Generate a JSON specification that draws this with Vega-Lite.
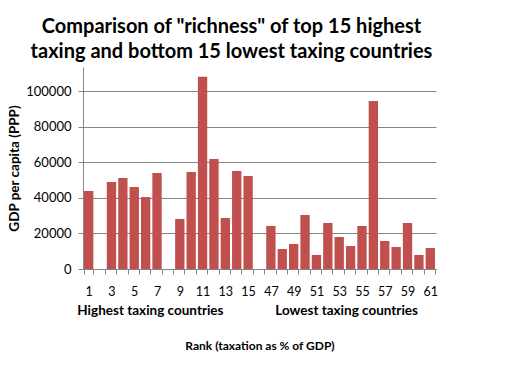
{
  "$schema": "https://vega.github.io/schema/vega-lite/v6.json",
  "width": 353,
  "height": 202,
  "autosize": {"type": "none"},
  "padding": {"left": 83, "top": 67, "right": 81, "bottom": 100},
  "background": "white",
  "config": {"view": {"stroke": null}, "font": "Lato"},
  "title": {
    "text": ["Comparison of \"richness\" of top 15 highest", "taxing and bottom 15 lowest taxing countries"],
    "fontSize": 20,
    "fontWeight": "bold",
    "font": "Lato",
    "lineHeight": 25,
    "dx": -28,
    "offset": 5,
    "color": "black"
  },
  "data": {
    "values": [
      {"rank": "1", "gdp": 43900},
      {"rank": "3", "gdp": 49000},
      {"rank": "4", "gdp": 51200},
      {"rank": "5", "gdp": 46150},
      {"rank": "6", "gdp": 40500},
      {"rank": "7", "gdp": 54000},
      {"rank": "9", "gdp": 28150},
      {"rank": "10", "gdp": 54600},
      {"rank": "11", "gdp": 108250},
      {"rank": "12", "gdp": 61900},
      {"rank": "13", "gdp": 28700},
      {"rank": "14", "gdp": 55150},
      {"rank": "15", "gdp": 52350},
      {"rank": "47", "gdp": 24200},
      {"rank": "48", "gdp": 11250},
      {"rank": "49", "gdp": 14050},
      {"rank": "50", "gdp": 30400},
      {"rank": "51", "gdp": 7900},
      {"rank": "52", "gdp": 25900},
      {"rank": "53", "gdp": 18000},
      {"rank": "54", "gdp": 12950},
      {"rank": "55", "gdp": 24200},
      {"rank": "56", "gdp": 94550},
      {"rank": "57", "gdp": 15750},
      {"rank": "58", "gdp": 12400},
      {"rank": "59", "gdp": 25900},
      {"rank": "60", "gdp": 7900},
      {"rank": "61", "gdp": 11800}
    ]
  },
  "layer": [
    {
      "mark": {"type": "bar", "color": "#C0504D"},
      "encoding": {
        "x": {
          "field": "rank",
          "type": "nominal",
          "scale": {
            "domain": ["1","2","3","4","5","6","7","8","9","10","11","12","13","14","15"," ","47","48","49","50","51","52","53","54","55","56","57","58","59","60","61"],
            "paddingInner": 0.18,
            "paddingOuter": 0.09
          },
          "axis": {
            "title": null,
            "orient": "bottom",
            "labelAngle": 0,
            "labelExpr": "indexof(['1','3','5','7','9','11','13','15','47','49','51','53','55','57','59','61'], datum.value) >= 0 ? datum.value : ''",
            "tickBand": "extent",
            "tickSize": 5,
            "tickColor": "#868686",
            "domainColor": "#868686",
            "labelFontSize": 12.5,
            "labelColor": "black",
            "labelPadding": 11,
            "labelOverlap": false,
            "grid": false
          }
        },
        "y": {
          "field": "gdp",
          "type": "quantitative",
          "scale": {"domain": [0, 113700], "nice": false},
          "axis": {
            "title": "GDP per capita (PPP)",
            "titleFontSize": 13.5,
            "titleFontWeight": "bold",
            "titleColor": "black",
            "titlePadding": 4,
            "values": [0, 20000, 40000, 60000, 80000, 100000],
            "format": "d",
            "labelFontSize": 13,
            "labelColor": "black",
            "labelPadding": 7,
            "tickSize": 5,
            "tickColor": "#868686",
            "domainColor": "#868686",
            "gridColor": "#868686",
            "gridOpacity": 1
          }
        }
      }
    },
    {
      "mark": {"type": "point", "opacity": 0},
      "encoding": {
        "x": {
          "field": "rank",
          "type": "nominal",
          "axis": {
            "orient": "bottom",
            "offset": 0,
            "title": "Rank (taxation as % of GDP)",
            "titleFontSize": 12,
            "titleFontWeight": "bold",
            "titleColor": "black",
            "titlePadding": 24,
            "labelExpr": "datum.value == '8' ? 'Highest taxing countries' : datum.value == '54' ? 'Lowest taxing countries' : ''",
            "labelFontSize": 13.5,
            "labelFontWeight": "bold",
            "labelColor": "black",
            "labelAngle": 0,
            "labelOverlap": false,
            "labelLimit": 300,
            "labelOffset": {"condition": {"test": "datum.value == '8'", "value": -18}, "value": -4},
            "labelPadding": 34,
            "domain": false,
            "ticks": false,
            "grid": false
          }
        }
      }
    }
  ],
  "resolve": {"axis": {"x": "independent"}}
}
